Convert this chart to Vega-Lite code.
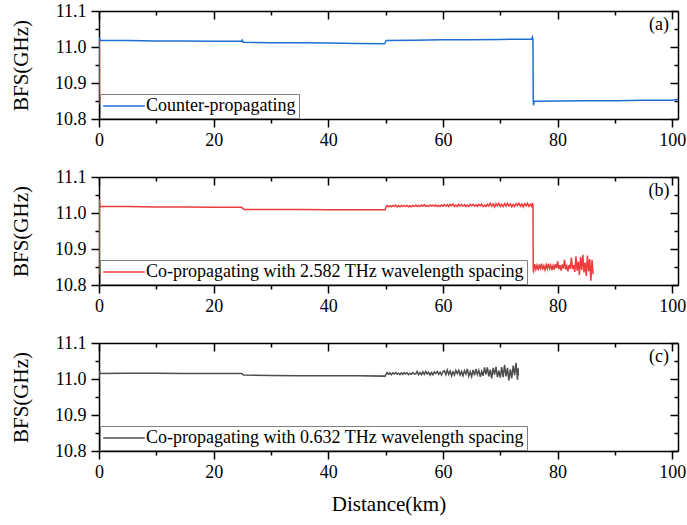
{
  "$schema": "https://vega.github.io/schema/vega-lite/v6.json",
  "background": "white",
  "padding": {"left": 10, "top": 2, "right": 8, "bottom": 4},
  "config": {
    "font": "'Liberation Serif', 'Times New Roman', 'DejaVu Serif', serif",
    "view": {"stroke": null},
    "text": {"font": "'Liberation Serif', 'Times New Roman', 'DejaVu Serif', serif"},
    "axis": {
      "labelFont": "'Liberation Serif', 'Times New Roman', 'DejaVu Serif', serif", "labelFontSize": 18, "labelColor": "black",
      "titleFont": "'Liberation Serif', 'Times New Roman', 'DejaVu Serif', serif", "titleFontSize": 21, "titleFontWeight": "normal", "titleColor": "black",
      "domainColor": "black", "tickColor": "black", "domainWidth": 1.5, "tickWidth": 1.5,
      "grid": false, "labelFlush": false, "labelOverlap": false
    },
    "legend": {
      "orient": "bottom-left", "title": null, "offset": 1, "padding": 3,
      "strokeColor": "#808080", "fillColor": "white", "cornerRadius": 0,
      "symbolType": "M-2.6,0H2.6", "symbolSize": 256, "symbolStrokeWidth": 1.5, "symbolOffset": 12,
      "labelFont": "'Liberation Serif', 'Times New Roman', 'DejaVu Serif', serif", "labelFontSize": 18, "labelColor": "black",
      "labelOffset": 13, "labelLimit": 600
    }
  },
  "datasets": {
    "a": [
      {"d":0,"b":10.84},{"d":0.05,"b":11.026},{"d":0.2,"b":11.019},{"d":2,"b":11.018},{"d":5,"b":11.018},{"d":10,"b":11.017},{"d":15,"b":11.017},{"d":20,"b":11.016},{"d":24.9,"b":11.016},{"d":25,"b":11.021},{"d":25.1,"b":11.013},{"d":30,"b":11.012},{"d":35,"b":11.012},{"d":40,"b":11.011},{"d":45,"b":11.010},{"d":49.8,"b":11.009},{"d":50.1,"b":11.018},{"d":55,"b":11.019},{"d":60,"b":11.020},{"d":65,"b":11.020},{"d":70,"b":11.021},{"d":75.5,"b":11.022},{"d":75.6,"b":11.027},{"d":75.7,"b":11.021},{"d":75.75,"b":10.85},{"d":75.8,"b":10.838},{"d":75.9,"b":10.849},{"d":80,"b":10.850},{"d":85,"b":10.851},{"d":90,"b":10.851},{"d":95,"b":10.852},{"d":100,"b":10.852},{"d":101,"b":10.855}
    ],
    "b": [
      {"d":0,"b":10.83},{"d":0.05,"b":11.038},{"d":0.15,"b":11.015},{"d":0.3,"b":11.018},{"d":5,"b":11.018},{"d":10,"b":11.017},{"d":15,"b":11.017},{"d":20,"b":11.016},{"d":24.9,"b":11.016},{"d":25.1,"b":11.012},{"d":25.3,"b":11.010},{"d":30,"b":11.010},{"d":35,"b":11.010},{"d":40,"b":11.009},{"d":45,"b":11.009},{"d":49.9,"b":11.009},{"d":50.1,"b":11.018},
      {"d":50.25,"b":11.021},{"d":50.5,"b":11.017},{"d":50.75,"b":11.020},{"d":51,"b":11.017},{"d":51.25,"b":11.021},{"d":51.5,"b":11.018},{"d":51.75,"b":11.022},{"d":52,"b":11.017},{"d":52.25,"b":11.020},{"d":52.5,"b":11.017},{"d":52.75,"b":11.021},{"d":53,"b":11.018},{"d":53.25,"b":11.021},{"d":53.5,"b":11.018},{"d":53.75,"b":11.021},{"d":54,"b":11.017},{"d":54.25,"b":11.020},{"d":54.5,"b":11.017},{"d":54.75,"b":11.021},{"d":55,"b":11.018},
      {"d":55.25,"b":11.022},{"d":55.5,"b":11.018},{"d":55.75,"b":11.021},{"d":56,"b":11.018},{"d":56.25,"b":11.022},{"d":56.5,"b":11.019},{"d":56.75,"b":11.023},{"d":57,"b":11.018},{"d":57.25,"b":11.021},{"d":57.5,"b":11.018},{"d":57.75,"b":11.022},{"d":58,"b":11.019},{"d":58.25,"b":11.022},{"d":58.5,"b":11.019},{"d":58.75,"b":11.022},{"d":59,"b":11.018},{"d":59.25,"b":11.021},{"d":59.5,"b":11.018},{"d":59.75,"b":11.022},{"d":60,"b":11.019},
      {"d":60.25,"b":11.024},{"d":60.5,"b":11.019},{"d":60.75,"b":11.023},{"d":61,"b":11.018},{"d":61.25,"b":11.024},{"d":61.5,"b":11.020},{"d":61.75,"b":11.025},{"d":62,"b":11.018},{"d":62.25,"b":11.022},{"d":62.5,"b":11.018},{"d":62.75,"b":11.024},{"d":63,"b":11.019},{"d":63.25,"b":11.024},{"d":63.5,"b":11.019},{"d":63.75,"b":11.023},{"d":64,"b":11.018},{"d":64.25,"b":11.022},{"d":64.5,"b":11.018},{"d":64.75,"b":11.024},{"d":65,"b":11.020},{"d":65.25,"b":11.024},{"d":65.5,"b":11.019},{"d":65.75,"b":11.023},{"d":66,"b":11.018},{"d":66.25,"b":11.024},{"d":66.5,"b":11.020},{"d":66.75,"b":11.025},{"d":67,"b":11.018},{"d":67.25,"b":11.022},{"d":67.5,"b":11.018},{"d":67.75,"b":11.024},{"d":68,"b":11.019},
      {"d":68.25,"b":11.027},{"d":68.5,"b":11.019},{"d":68.75,"b":11.025},{"d":69,"b":11.017},{"d":69.25,"b":11.026},{"d":69.5,"b":11.020},{"d":69.75,"b":11.027},{"d":70,"b":11.018},{"d":70.25,"b":11.024},{"d":70.5,"b":11.018},{"d":70.75,"b":11.026},{"d":71,"b":11.019},{"d":71.25,"b":11.027},{"d":71.5,"b":11.020},{"d":71.75,"b":11.025},{"d":72,"b":11.017},{"d":72.25,"b":11.024},{"d":72.5,"b":11.018},{"d":72.75,"b":11.026},{"d":73,"b":11.021},{"d":73.25,"b":11.027},{"d":73.5,"b":11.019},{"d":73.75,"b":11.025},{"d":74,"b":11.017},{"d":74.25,"b":11.026},{"d":74.5,"b":11.020},{"d":74.75,"b":11.027},{"d":75,"b":11.018},{"d":75.25,"b":11.024},{"d":75.5,"b":11.018},{"d":75.6,"b":11.028},{"d":75.7,"b":11.022},
      {"d":75.75,"b":10.840},{"d":75.8,"b":10.838},{"d":76.0,"b":10.858},{"d":76.2,"b":10.844},{"d":76.4,"b":10.855},{"d":76.6,"b":10.841},{"d":76.8,"b":10.857},{"d":77.0,"b":10.846},{"d":77.2,"b":10.859},{"d":77.4,"b":10.843},{"d":77.6,"b":10.853},{"d":77.8,"b":10.842},{"d":78.0,"b":10.856},{"d":78.2,"b":10.845},{"d":78.4,"b":10.859},{"d":78.6,"b":10.846},{"d":78.8,"b":10.855},{"d":79.0,"b":10.841},{"d":79.2,"b":10.854},{"d":79.4,"b":10.843},{"d":79.6,"b":10.858},{"d":79.8,"b":10.847},{"d":80.0,"b":10.866},{"d":80.2,"b":10.844},{"d":80.4,"b":10.855},{"d":80.6,"b":10.840},{"d":80.8,"b":10.857},{"d":81.0,"b":10.846},{"d":81.2,"b":10.870},{"d":81.4,"b":10.843},{"d":81.6,"b":10.853},{"d":81.8,"b":10.838},{"d":82.0,"b":10.856},{"d":82.2,"b":10.845},{"d":82.4,"b":10.876},{"d":82.6,"b":10.844},{"d":82.8,"b":10.855},{"d":83.0,"b":10.836},{"d":83.2,"b":10.880},{"d":83.4,"b":10.840},{"d":83.6,"b":10.865},{"d":83.8,"b":10.828},{"d":84.0,"b":10.878},{"d":84.2,"b":10.842},{"d":84.4,"b":10.884},{"d":84.6,"b":10.835},{"d":84.8,"b":10.862},{"d":85.0,"b":10.825},{"d":85.2,"b":10.882},{"d":85.4,"b":10.838},{"d":85.6,"b":10.872},{"d":85.8,"b":10.812},{"d":86.0,"b":10.870},{"d":86.2,"b":10.830}
    ],
    "c": [
      {"d":0,"b":11.003},{"d":0.05,"b":11.023},{"d":0.2,"b":11.015},{"d":5,"b":11.016},{"d":10,"b":11.016},{"d":15,"b":11.015},{"d":20,"b":11.015},{"d":24.9,"b":11.015},{"d":25.2,"b":11.011},{"d":30,"b":11.010},{"d":35,"b":11.009},{"d":40,"b":11.009},{"d":45,"b":11.009},{"d":49.9,"b":11.008},{"d":50.1,"b":11.014},
      {"d":50.25,"b":11.018},{"d":50.5,"b":11.013},{"d":50.75,"b":11.017},{"d":51,"b":11.012},{"d":51.25,"b":11.017},{"d":51.5,"b":11.014},{"d":51.75,"b":11.018},{"d":52,"b":11.013},{"d":52.25,"b":11.016},{"d":52.5,"b":11.012},{"d":52.75,"b":11.017},{"d":53,"b":11.013},{"d":53.25,"b":11.018},{"d":53.5,"b":11.014},{"d":53.75,"b":11.017},{"d":54,"b":11.012},{"d":54.25,"b":11.016},{"d":54.5,"b":11.013},{"d":54.75,"b":11.018},{"d":55,"b":11.014},
      {"d":55.25,"b":11.014},{"d":55.5,"b":11.021},{"d":55.75,"b":11.012},{"d":56,"b":11.018},{"d":56.25,"b":11.012},{"d":56.5,"b":11.020},{"d":56.75,"b":11.013},{"d":57,"b":11.021},{"d":57.25,"b":11.014},{"d":57.5,"b":11.019},{"d":57.75,"b":11.011},{"d":58,"b":11.018},{"d":58.25,"b":11.012},{"d":58.5,"b":11.020},{"d":58.75,"b":11.015},{"d":59,"b":11.021},{"d":59.25,"b":11.013},{"d":59.5,"b":11.019},{"d":59.75,"b":11.011},{"d":60,"b":11.020},
      {"d":60.25,"b":11.023},{"d":60.5,"b":11.012},{"d":60.75,"b":11.025},{"d":61,"b":11.013},{"d":61.25,"b":11.022},{"d":61.5,"b":11.009},{"d":61.75,"b":11.020},{"d":62,"b":11.011},{"d":62.25,"b":11.024},{"d":62.5,"b":11.015},{"d":62.75,"b":11.024},{"d":63,"b":11.011},{"d":63.25,"b":11.021},{"d":63.5,"b":11.009},{"d":63.75,"b":11.023},{"d":64,"b":11.014},
      {"d":64.25,"b":11.028},{"d":64.5,"b":11.008},{"d":64.75,"b":11.020},{"d":65,"b":11.007},{"d":65.25,"b":11.025},{"d":65.5,"b":11.010},{"d":65.75,"b":11.028},{"d":66,"b":11.012},{"d":66.25,"b":11.024},{"d":66.5,"b":11.006},{"d":66.75,"b":11.021},{"d":67,"b":11.009},
      {"d":67.25,"b":11.032},{"d":67.5,"b":11.013},{"d":67.75,"b":11.032},{"d":68,"b":11.007},{"d":68.25,"b":11.026},{"d":68.5,"b":11.002},{"d":68.75,"b":11.031},{"d":69,"b":11.012},{"d":69.25,"b":11.034},{"d":69.5,"b":11.005},{"d":69.75,"b":11.023},{"d":70,"b":11.004},
      {"d":70.25,"b":11.033},{"d":70.5,"b":11.005},{"d":70.75,"b":11.039},{"d":71,"b":11.007},{"d":71.25,"b":11.031},{"d":71.5,"b":10.996},{"d":71.75,"b":11.027},{"d":72,"b":11.002},{"d":72.25,"b":11.037},{"d":72.5,"b":11.011},{"d":72.75,"b":11.045},{"d":73,"b":10.998},{"d":73.1,"b":11.030},{"d":73.15,"b":11.010}
    ]
  },
  "vconcat": [
    {
      "width": 579, "height": 108,
      "layer": [
        {
          "data": {"name": "a"},
          "mark": {"type": "line", "strokeWidth": 1.5, "clip": true},
          "encoding": {
            "x": {"field": "d", "type": "quantitative", "scale": {"domain": [0, 101], "nice": false, "zero": false},
              "axis": {"orient": "bottom", "title": null, "values": [0,10,20,30,40,50,60,70,80,90,100], "format": "d",
                "labelExpr": "datum.value % 20 === 0 ? datum.label : ''", "labelPadding": 4,
                "tickSize": {"condition": {"test": "datum.value % 20 === 0", "value": 8}, "value": 4}}},
            "y": {"field": "b", "type": "quantitative", "scale": {"domain": [10.8, 11.1], "nice": false, "zero": false},
              "axis": {"orient": "left", "title": "BFS(GHz)", "titlePadding": 23, "values": [10.8,10.85,10.9,10.95,11.0,11.05,11.1], "format": ".1f",
                "labelExpr": "abs(datum.value*10 - round(datum.value*10)) < 0.01 ? datum.label : ''", "labelPadding": 5,
                "tickSize": {"condition": {"test": "abs(datum.value*10 - round(datum.value*10)) < 0.01", "value": 8}, "value": 4}}},
            "color": {"datum": "Counter-propagating", "type": "nominal", "scale": {"range": ["#1f6ed4"]}}
          }
        },
        {
          "data": {"values": [{}]},
          "mark": {"type": "text", "text": "(a)", "fontSize": 18, "align": "center", "baseline": "middle", "color": "black"},
          "encoding": {
            "x": {"datum": 97.7, "type": "quantitative",
              "axis": {"orient": "top", "title": null, "labels": false, "values": [0,10,20,30,40,50,60,70,80,90,100],
                "tickSize": {"condition": {"test": "datum.value % 20 === 0", "value": -8}, "value": -4}}},
            "y": {"datum": 11.062, "type": "quantitative",
              "axis": {"orient": "right", "title": null, "labels": false, "values": [10.8,10.85,10.9,10.95,11.0,11.05,11.1],
                "tickSize": {"condition": {"test": "abs(datum.value*10 - round(datum.value*10)) < 0.01", "value": -8}, "value": -4}}}
          }
        }
      ],
      "resolve": {"axis": {"x": "independent", "y": "independent"}}
    },
    {
      "width": 579, "height": 108,
      "layer": [
        {
          "data": {"name": "b"},
          "mark": {"type": "line", "strokeWidth": 1.5, "clip": true},
          "encoding": {
            "x": {"field": "d", "type": "quantitative", "scale": {"domain": [0, 101], "nice": false, "zero": false},
              "axis": {"orient": "bottom", "title": null, "values": [0,10,20,30,40,50,60,70,80,90,100], "format": "d",
                "labelExpr": "datum.value % 20 === 0 ? datum.label : ''", "labelPadding": 4,
                "tickSize": {"condition": {"test": "datum.value % 20 === 0", "value": 8}, "value": 4}}},
            "y": {"field": "b", "type": "quantitative", "scale": {"domain": [10.8, 11.1], "nice": false, "zero": false},
              "axis": {"orient": "left", "title": "BFS(GHz)", "titlePadding": 23, "values": [10.8,10.85,10.9,10.95,11.0,11.05,11.1], "format": ".1f",
                "labelExpr": "abs(datum.value*10 - round(datum.value*10)) < 0.01 ? datum.label : ''", "labelPadding": 5,
                "tickSize": {"condition": {"test": "abs(datum.value*10 - round(datum.value*10)) < 0.01", "value": 8}, "value": 4}}},
            "color": {"datum": "Co-propagating with 2.582 THz wavelength spacing", "type": "nominal", "scale": {"range": ["#ec3c3c"]}}
          }
        },
        {
          "data": {"values": [{}]},
          "mark": {"type": "text", "text": "(b)", "fontSize": 18, "align": "center", "baseline": "middle", "color": "black"},
          "encoding": {
            "x": {"datum": 97.7, "type": "quantitative",
              "axis": {"orient": "top", "title": null, "labels": false, "values": [0,10,20,30,40,50,60,70,80,90,100],
                "tickSize": {"condition": {"test": "datum.value % 20 === 0", "value": -8}, "value": -4}}},
            "y": {"datum": 11.062, "type": "quantitative",
              "axis": {"orient": "right", "title": null, "labels": false, "values": [10.8,10.85,10.9,10.95,11.0,11.05,11.1],
                "tickSize": {"condition": {"test": "abs(datum.value*10 - round(datum.value*10)) < 0.01", "value": -8}, "value": -4}}}
          }
        }
      ],
      "resolve": {"axis": {"x": "independent", "y": "independent"}}
    },
    {
      "width": 579, "height": 108,
      "layer": [
        {
          "data": {"name": "c"},
          "mark": {"type": "line", "strokeWidth": 1.5, "clip": true},
          "encoding": {
            "x": {"field": "d", "type": "quantitative", "scale": {"domain": [0, 101], "nice": false, "zero": false},
              "axis": {"orient": "bottom", "title": "Distance(km)", "titlePadding": 12, "values": [0,10,20,30,40,50,60,70,80,90,100], "format": "d",
                "labelExpr": "datum.value % 20 === 0 ? datum.label : ''", "labelPadding": 4,
                "tickSize": {"condition": {"test": "datum.value % 20 === 0", "value": 8}, "value": 4}}},
            "y": {"field": "b", "type": "quantitative", "scale": {"domain": [10.8, 11.1], "nice": false, "zero": false},
              "axis": {"orient": "left", "title": "BFS(GHz)", "titlePadding": 23, "values": [10.8,10.85,10.9,10.95,11.0,11.05,11.1], "format": ".1f",
                "labelExpr": "abs(datum.value*10 - round(datum.value*10)) < 0.01 ? datum.label : ''", "labelPadding": 5,
                "tickSize": {"condition": {"test": "abs(datum.value*10 - round(datum.value*10)) < 0.01", "value": 8}, "value": 4}}},
            "color": {"datum": "Co-propagating with 0.632 THz wavelength spacing", "type": "nominal", "scale": {"range": ["#4d4d4d"]}}
          }
        },
        {
          "data": {"values": [{}]},
          "mark": {"type": "text", "text": "(c)", "fontSize": 18, "align": "center", "baseline": "middle", "color": "black"},
          "encoding": {
            "x": {"datum": 97.7, "type": "quantitative",
              "axis": {"orient": "top", "title": null, "labels": false, "values": [0,10,20,30,40,50,60,70,80,90,100],
                "tickSize": {"condition": {"test": "datum.value % 20 === 0", "value": -8}, "value": -4}}},
            "y": {"datum": 11.062, "type": "quantitative",
              "axis": {"orient": "right", "title": null, "labels": false, "values": [10.8,10.85,10.9,10.95,11.0,11.05,11.1],
                "tickSize": {"condition": {"test": "abs(datum.value*10 - round(datum.value*10)) < 0.01", "value": -8}, "value": -4}}}
          }
        }
      ],
      "resolve": {"axis": {"x": "independent", "y": "independent"}}
    }
  ],
  "spacing": 58,
  "bounds": "flush",
  "resolve": {"scale": {"color": "independent", "x": "independent", "y": "independent"}, "legend": {"color": "independent"}}
}
